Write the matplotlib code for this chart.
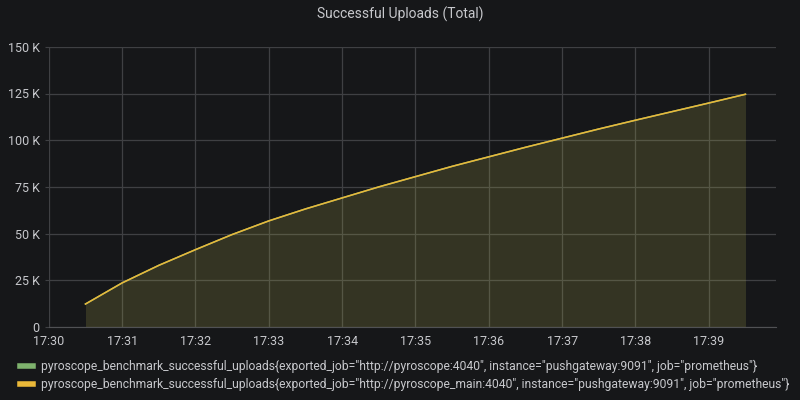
import datetime as dt

import matplotlib
matplotlib.use("Agg")
import matplotlib.pyplot as plt
import matplotlib.dates as mdates
from matplotlib.ticker import FuncFormatter, MultipleLocator

plt.rcParams["font.family"] = ["Roboto", "DejaVu Sans"]

BG = "#161719"
GRID = "#3f4043"
TEXT = "#c7c8cc"
GREEN = "#7EB26D"
YELLOW = "#EAB839"

# 30 s samples, 17:30:30 .. 17:39:30
times = ["17:30:30", "17:31:00", "17:31:30", "17:32:00", "17:32:30", "17:33:00",
         "17:33:30", "17:34:00", "17:34:30", "17:35:00", "17:35:30", "17:36:00",
         "17:36:30", "17:37:00", "17:37:30", "17:38:00", "17:38:30", "17:39:00",
         "17:39:30"]
uploads = [12300, 23600, 33000, 41400, 49500, 56800, 63200, 69100, 75000, 80500,
           86000, 91100, 96200, 101100, 106000, 110700, 115300, 119900, 124600]

series_labels = [
    'pyroscope_benchmark_successful_uploads{exported_job="http://pyroscope:4040", '
    'instance="pushgateway:9091", job="prometheus"}',
    'pyroscope_benchmark_successful_uploads{exported_job="http://pyroscope_main:4040", '
    'instance="pushgateway:9091", job="prometheus"}',
]

day = dt.date(2021, 1, 1)
x = [dt.datetime.combine(day, dt.datetime.strptime(t, "%H:%M:%S").time()) for t in times]

fig = plt.figure(figsize=(8, 4), dpi=100, facecolor=BG)
ax = fig.add_axes([0.061, 0.1825, 0.909, 0.7005], facecolor=BG)

# green series sits exactly under the yellow one
for color, label in [(GREEN, series_labels[0]), (YELLOW, series_labels[1])]:
    ax.fill_between(x, uploads, 0, color=color, alpha=0.1, lw=0)
    ax.plot(x, uploads, color=color, lw=1.1, label=label)

x0 = dt.datetime.combine(day, dt.time(17, 30))
ax.set_xlim(x0, x0 + dt.timedelta(minutes=9, seconds=55))
ax.set_ylim(0, 150000)

ax.xaxis.set_major_locator(mdates.MinuteLocator())
ax.xaxis.set_major_formatter(mdates.DateFormatter("%H:%M"))
ax.yaxis.set_major_locator(MultipleLocator(25000))
ax.yaxis.set_major_formatter(FuncFormatter(lambda v, p: "0" if v == 0 else f"{v/1000:.0f} K"))

ax.grid(True, color=GRID, lw=0.9)
ax.set_axisbelow(True)
for s in ["top", "right", "left"]:
    ax.spines[s].set_visible(False)
ax.spines["bottom"].set_color("#505154")
ax.tick_params(axis="both", colors=GRID, labelcolor=TEXT, labelsize=9, length=3)
ax.tick_params(axis="x", length=0, pad=6)

fig.text(0.5, 0.963, "Successful Uploads (Total)", ha="center", va="center",
         color=TEXT, fontsize=10)

leg = fig.legend(loc="lower left", bbox_to_anchor=(0.012, -0.005), frameon=False,
                 fontsize=8.7, handlelength=1.0, handletextpad=0.7, labelspacing=0.42,
                 labelcolor=TEXT)
for h in leg.get_lines():
    h.set_linewidth(4)

fig.savefig("out.png", dpi=100, facecolor=BG)
